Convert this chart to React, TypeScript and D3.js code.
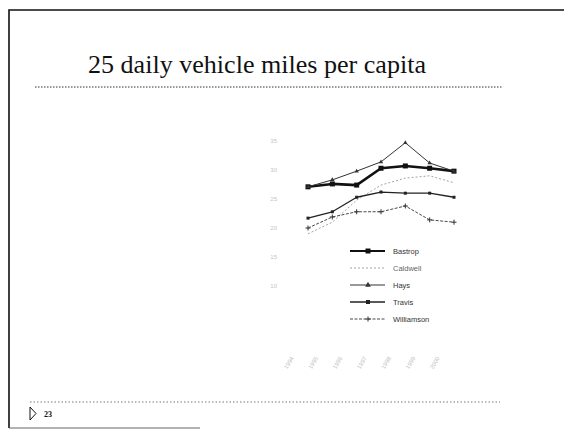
import React from 'react';
import * as d3 from 'd3';

// values (axis labels are too faint to read, years are a guess)
const years = ['1994', '1995', '1996', '1997', '1998', '1999', '2000'];
const seriesNames = ['Bastrop', 'Caldwell', 'Hays', 'Travis', 'Williamson'];
const bastrop = [27.1, 27.6, 27.4, 30.3, 30.7, 30.3, 29.8];
const caldwell = [19.0, 21.0, 24.8, 27.4, 28.6, 29.0, 27.8];
const hays = [27.1, 28.3, 29.8, 31.4, 34.7, 31.2, 29.8];
const travis = [21.7, 22.8, 25.3, 26.2, 26.0, 26.0, 25.3];
const williamson = [20.0, 21.9, 22.8, 22.8, 23.8, 21.4, 21.0];
const yTicks = [0, 5, 10, 15, 20, 25, 30, 35, 40];

const title = '25 daily vehicle miles per capita';

const styles: Record<string, any> = {
    Bastrop: {stroke: '#111', width: 2.6, dash: null, marker: 'square', size: 5},
    Caldwell: {stroke: '#999', width: 0.9, dash: '2,2', marker: 'none', size: 0},
    Hays: {stroke: '#333', width: 1, dash: null, marker: 'triangle', size: 3},
    Travis: {stroke: '#222', width: 1.3, dash: null, marker: 'square', size: 3},
    Williamson: {stroke: '#333', width: 0.9, dash: '3,1.5', marker: 'plus', size: 5},
};

const Marker = ({type, x, y, size, color}: any) => {
    if (type === 'square') {
        return <rect x={x - size / 2} y={y - size / 2} width={size} height={size} fill={color} />;
    }
    if (type === 'triangle') {
        const tri = d3.symbol().type(d3.symbolTriangle).size(size * size * 0.9)();
        return <path d={tri || ''} transform={`translate(${x},${y})`} fill={color} />;
    }
    if (type === 'plus') {
        return <path d={`M${x - size / 2},${y}H${x + size / 2}M${x},${y - size / 2}V${y + size / 2}`} stroke={color} strokeWidth={1} />;
    }
    return null;
};

export default function App() {
    const width = 564;
    const height = 431;
    const margin = {left: 308, right: 110, top: 112, bottom: 87};

    const x = d3.scalePoint<string>().domain(years).range([margin.left, width - margin.right]);
    const y = d3.scaleLinear().domain([0, 40]).range([height - margin.bottom, margin.top]);

    const data: Record<string, number[]> = {
        Bastrop: bastrop,
        Caldwell: caldwell,
        Hays: hays,
        Travis: travis,
        Williamson: williamson,
    };

    const line = d3.line<number>()
        .x((d, i) => x(years[i]) as number)
        .y((d) => y(d));

    const legendX = 350;
    const legendY = d3.scalePoint<string>().domain(seriesNames).range([251, 319]);

    return (
        <div style={{position: 'absolute', left: 0, top: 0}}>
            <svg width={width} height={height} style={{display: 'block', background: '#fff'}}>
                {/* slide frame */}
                <path d={`M9,428V10H564`} fill="none" stroke="#111" strokeWidth={1.6} />
                <path d={`M9,428H200`} fill="none" stroke="#666" strokeWidth={1} />

                {/* title */}
                <text x={88} y={73} textLength={338} lengthAdjust="spacingAndGlyphs"
                    fontFamily="'Liberation Serif', serif" fontSize={25} fill="#111">
                    {title}
                </text>
                <line x1={35} x2={503} y1={87} y2={87} stroke="#333" strokeWidth={1} strokeDasharray="1.5,1.5" />

                {/* faint axis labels */}
                <g fill="#c4c4c4" fontFamily="'Liberation Sans', sans-serif" fontSize={6}>
                    {yTicks.filter((t) => t > 5 && t < 40).map((t) => (
                        <text key={t} x={277} y={y(t)} dy="0.35em" textAnchor="end">{t}</text>
                    ))}
                    {years.map((yr) => (
                        <text key={yr} transform={`translate(${(x(yr) as number) - 14},${358}) rotate(-60)`} textAnchor="end">{yr}</text>
                    ))}
                </g>

                {/* series */}
                {seriesNames.map((name) => {
                    const s = styles[name];
                    return (
                        <g key={name}>
                            <path d={line(data[name]) || ''} fill="none" stroke={s.stroke} strokeWidth={s.width}
                                strokeDasharray={s.dash || undefined} strokeLinejoin="round" />
                            {data[name].map((v, i) => (
                                <Marker key={i} type={s.marker} x={x(years[i])} y={y(v)} size={s.size} color={s.stroke} />
                            ))}
                        </g>
                    );
                })}

                {/* legend */}
                {seriesNames.map((name) => {
                    const s = styles[name];
                    const ly = legendY(name) as number;
                    return (
                        <g key={name}>
                            <line x1={legendX} x2={legendX + 35} y1={ly} y2={ly} stroke={s.stroke} strokeWidth={Math.min(s.width, 2)}
                                strokeDasharray={s.dash || undefined} />
                            <Marker type={s.marker} x={legendX + 18} y={ly} size={Math.max(s.size, 4)} color={s.stroke} />
                            <text x={legendX + 43} y={ly} dy="0.35em" fontFamily="'Liberation Sans', sans-serif" fontSize={7.5}
                                fill={name === 'Caldwell' ? '#666' : '#333'}>{name}</text>
                        </g>
                    );
                })}

                {/* footer */}
                <line x1={30} x2={500} y1={402} y2={402} stroke="#555" strokeWidth={0.8} strokeDasharray="1.5,2" />
                <path d="M30,407L36,413.5L30,420Z" fill="none" stroke="#111" strokeWidth={1} />
                <text x={44} y={417} fontFamily="'Liberation Serif', serif" fontSize={8} fontWeight="bold" fill="#111">23</text>
            </svg>
        </div>
    );
}
